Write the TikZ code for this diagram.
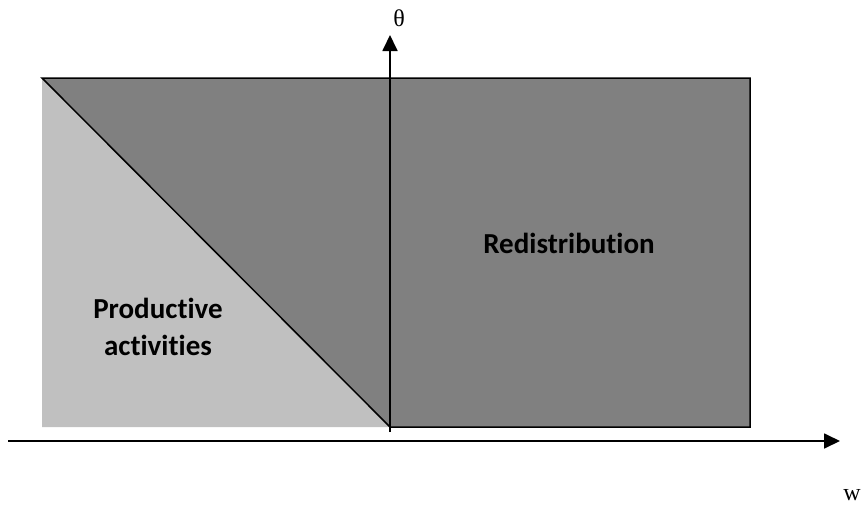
\documentclass[tikz,border=0pt]{standalone}
\usepackage{fontspec}
\setmainfont{Liberation Serif}
\newfontfamily\labelfont[Ligatures={NoCommon,NoContextual}]{Carlito}
\usetikzlibrary{arrows.meta}
\definecolor{lightg}{HTML}{C0C0C0}
\definecolor{darkg}{HTML}{808080}
\tikzset{
  axis/.style={line width=1.8pt,-{Triangle[length=16pt,width=15pt]}},
  region/.style={font=\labelfont\bfseries\fontsize{29}{37}\selectfont,align=center,anchor=base},
  axlabel/.style={font=\fontsize{24}{28}\selectfont}
}
\begin{document}
\begin{tikzpicture}[x=1pt,y=-1pt]
\useasboundingbox (0,0) rectangle (868,506);
\coordinate (tl) at (42,78);
\coordinate (tr) at (750,78);
\coordinate (br) at (750,427);
\coordinate (bm) at (390,427);
\coordinate (bl) at (42,427);
\fill[lightg] (tl) -- (bl) -- (bm) -- cycle;
\filldraw[fill=darkg,draw=black,line width=1.5pt,line join=miter] (tl) -- (tr) -- (br) -- (bm) -- cycle;
\coordinate (vbot) at (390,432);
\coordinate (vtop) at (390,35);
\coordinate (hl) at (8,441);
\coordinate (hr) at (840,441);
\draw[axis] (vbot) -- (vtop);
\draw[axis] (hl) -- (hr);
\node[axlabel] (theta) at (399,18) {θ};
\node[axlabel] (w) at (852,495) {w};
\node[region] (redis) at (569,253) {Redistribution};
\node[region] (prod) at (158,355) {Productive\\activities};
\end{tikzpicture}
\end{document}
